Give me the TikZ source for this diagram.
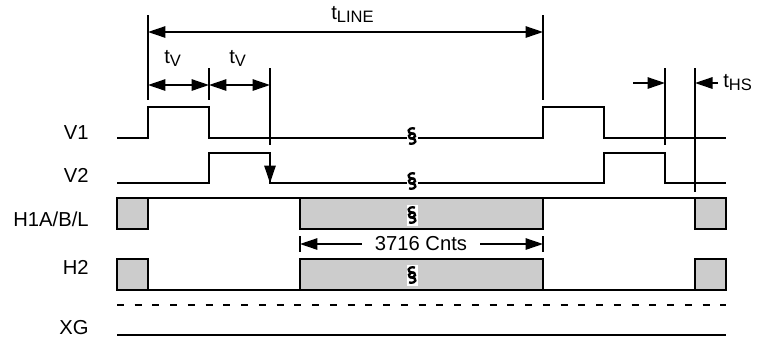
\documentclass[tikz,border=0pt]{standalone}
\usepackage{fontspec}
\setmainfont{Liberation Sans}
\usetikzlibrary{arrows.meta}

\newcommand\tsub[1]{\raisebox{-0.35ex}{\fontsize{9.4}{10}\selectfont #1}}

\tikzset{
  sig/.style={line width=0.8pt},
  pulse/.style={line width=1.6pt,fill=black!20},
  dim/.style={line width=0.8pt},
  tip/.tip={Triangle[length=0.35cm,width=0.23cm]},
  dimarr/.style={dim,tip-tip},
  lbl/.style={anchor=base east,inner sep=0pt},
  tlbl/.style={anchor=base west,inner sep=0pt},
  brk/.pic={
    \fill[white] (-5.5,-10.5) rectangle (5.5,10.5);
    \draw[line width=1.3pt] (3,-7.5) .. controls (-5,-9) and (-5,-2.5) .. (0,-2.5) .. controls (4.5,-2.5) and (4.5,3) .. (-2.5,2.5);
    \draw[line width=1.3pt] (2.5,-2.5) .. controls (-4.5,-3) and (-4.5,2.5) .. (0,2.5) .. controls (5,2.5) and (5,9) .. (-3,7.5);
  }
}

\begin{document}
\begin{tikzpicture}[x=0.02cm,y=-0.02cm,font=\fontsize{11.5}{13}\selectfont]
\useasboundingbox (0,0) rectangle (765,339);
% signal names
\node[lbl] (lv1) at (89,139) {V1};
\node[lbl] (lv2) at (89,182) {V2};
\node[lbl] (lh1) at (89,226) {H1A/B/L};
\node[lbl] (lh2) at (89,274) {H2};
\node[lbl] (lxg) at (89,334) {XG};
% timing marks
\coordinate (a0) at (148,15);  \coordinate (a1) at (148,100);
\coordinate (b0) at (543,15);  \coordinate (b1) at (543,100);
\coordinate (c0) at (209,68);  \coordinate (c1) at (209,100);
\coordinate (d0) at (270,68);  \coordinate (d1) at (270,145);
\coordinate (e0) at (665,68);  \coordinate (e1) at (665,145);
\coordinate (f0) at (695,68);  \coordinate (f1) at (695,192);
\draw[dim] (a0) -- (a1);
\draw[dim] (b0) -- (b1);
\draw[dim] (c0) -- (c1);
\draw[dim] (d0) -- (d1);
\draw[dim] (e0) -- (e1);
\draw[dim] (f0) -- (f1);
\draw[dimarr] (148,32) -- (543,32);
\draw[dimarr] (148,85) -- (209,85);
\draw[dimarr] (209,85) -- (270,85);
\draw[dim,-tip] (633,83) -- (665,83);
\draw[dim,-tip] (718,83) -- (695,83);
\node[tlbl] (tline) at (331,19) {t\tsub{LINE}};
\node[tlbl] (tv1) at (164,63) {t\tsub{V}};
\node[tlbl] (tv2) at (229,63) {t\tsub{V}};
\node[tlbl] (ths) at (723,87) {t\tsub{HS}};
% V1, V2
\draw[sig] (117,138) -- (148,138) -- (148,107) -- (209,107) -- (209,138) -- (543,138)
  -- (543,107) -- (604,107) -- (604,138) -- (726,138);
\draw[sig] (117,183) -- (209,183) -- (209,153) -- (270,153) -- (270,183) -- (604,183)
  -- (604,153) -- (665,153) -- (665,183) -- (726,183);
\draw[sig,-tip] (270,153) -- (270,183);
\pic at (412,136) {brk};
\pic at (412,181) {brk};
% H1A/B/L
\draw[line width=0.6pt] (148,198) -- (300,198) (543,198) -- (695,198);
\draw[pulse] (117,198) rectangle (148,229);
\draw[pulse] (300,198) rectangle (543,229);
\draw[pulse] (695,198) rectangle (726,229);
\pic at (412,215) {brk};
% 3716 counts
\draw[dim] (300,236) -- (300,252);
\draw[dim] (543,236) -- (543,252);
\node[inner xsep=0.26cm,inner ysep=0pt] (cnt) at (421,244) {3716 Cnts};
\draw[dim,-tip] (cnt.west) -- (300,244);
\draw[dim,-tip] (cnt.east) -- (543,244);
% H2
\draw[line width=0.9pt] (148,290) -- (300,290) (543,290) -- (695,290);
\draw[pulse] (117,259) rectangle (148,290);
\draw[pulse] (300,259) rectangle (543,290);
\draw[pulse] (695,259) rectangle (726,290);
\pic at (412,275) {brk};
% XG
\draw[line width=1pt,dash pattern=on 0.14cm off 0.215cm] (117,305) -- (726,305);
\draw[line width=1pt] (117,335) -- (726,335);
\end{tikzpicture}
\end{document}
